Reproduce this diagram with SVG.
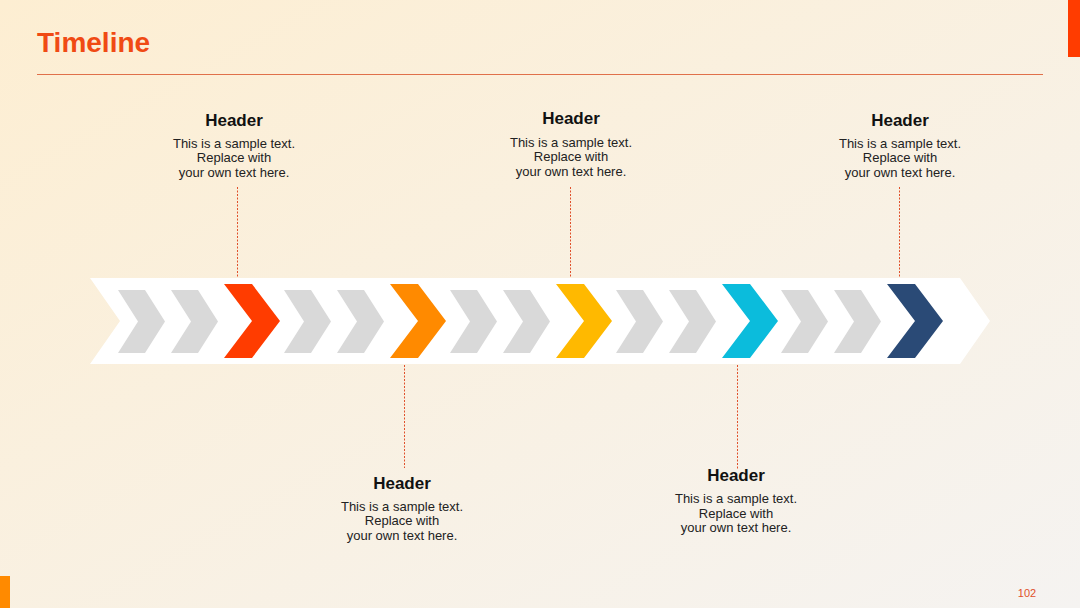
<svg xmlns="http://www.w3.org/2000/svg" width="1080" height="608" viewBox="0 0 1080 608">
<defs>
<linearGradient id="bg" x1="0" y1="0" x2="1" y2="1">
<stop offset="0" stop-color="#FDEED2"/><stop offset="1" stop-color="#F5F3F1"/>
</linearGradient>
<path id="g" d="M0,0 H27 L47,31.5 L27,63 H0 L20,31.5 Z" fill="#D9D9D9"/>
<path id="c" d="M0,0 H28 L56,37 L28,74 H0 L28,37 Z"/>
</defs>
<style>
.h{font-family:"Liberation Sans",Arial,sans-serif;font-weight:bold;font-size:17px;fill:#111;text-anchor:middle}
.t{font-family:"Liberation Sans",Arial,sans-serif;font-size:13px;fill:#222;text-anchor:middle}
.d{stroke:#E0502A;stroke-width:1;stroke-dasharray:2,1.5;fill:none}
</style>
<rect width="1080" height="608" fill="url(#bg)"/>
<rect x="1068" y="0" width="12" height="57" fill="#FF3C00"/>
<rect x="0" y="576" width="10" height="32" fill="#FF8A00"/>
<text x="37" y="52" font-family="Liberation Sans,Arial,sans-serif" font-weight="bold" font-size="28" fill="#F04A14">Timeline</text>
<line x1="37" y1="74.5" x2="1043" y2="74.5" stroke="#E0704A" stroke-width="1"/>
<g id="band">
<path d="M90,278 H960 L990,321 L960,364 H90 L120,321 Z" fill="#FFFFFF"/>
<use href="#g" x="118" y="290"/><use href="#g" x="171" y="290"/>
<use href="#c" x="224" y="284" fill="#FF3C00"/>
<use href="#g" x="284" y="290"/><use href="#g" x="337" y="290"/>
<use href="#c" x="390" y="284" fill="#FF8A00"/>
<use href="#g" x="450" y="290"/><use href="#g" x="503" y="290"/>
<use href="#c" x="556" y="284" fill="#FFB900"/>
<use href="#g" x="616" y="290"/><use href="#g" x="669" y="290"/>
<use href="#c" x="722" y="284" fill="#0BBCDC"/>
<use href="#g" x="781" y="290"/><use href="#g" x="834" y="290"/>
<use href="#c" x="887" y="284" fill="#2A4A76"/>
</g>
<g id="connectors">
<line class="d" x1="237.5" y1="187" x2="237.5" y2="277"/>
<line class="d" x1="570.5" y1="187" x2="570.5" y2="277"/>
<line class="d" x1="899.5" y1="187" x2="899.5" y2="277"/>
<line class="d" x1="404.5" y1="365" x2="404.5" y2="468"/>
<line class="d" x1="737.5" y1="365" x2="737.5" y2="470"/>
</g>
<g id="n1"><text class="h" x="234" y="126">Header</text><text class="t" x="234" y="148">This is a sample text.</text><text class="t" x="234" y="162">Replace with</text><text class="t" x="234" y="177">your own text here.</text></g>
<g id="n2"><text class="h" x="571" y="124">Header</text><text class="t" x="571" y="147">This is a sample text.</text><text class="t" x="571" y="161">Replace with</text><text class="t" x="571" y="176">your own text here.</text></g>
<g id="n3"><text class="h" x="900" y="126">Header</text><text class="t" x="900" y="148">This is a sample text.</text><text class="t" x="900" y="162">Replace with</text><text class="t" x="900" y="177">your own text here.</text></g>
<g id="n4"><text class="h" x="402" y="489">Header</text><text class="t" x="402" y="511">This is a sample text.</text><text class="t" x="402" y="525">Replace with</text><text class="t" x="402" y="540">your own text here.</text></g>
<g id="n5"><text class="h" x="736" y="481">Header</text><text class="t" x="736" y="503">This is a sample text.</text><text class="t" x="736" y="518">Replace with</text><text class="t" x="736" y="532">your own text here.</text></g>
<text x="1027" y="597" font-family="Liberation Sans,Arial,sans-serif" font-size="11" fill="#E0502A" text-anchor="middle">102</text>
</svg>
